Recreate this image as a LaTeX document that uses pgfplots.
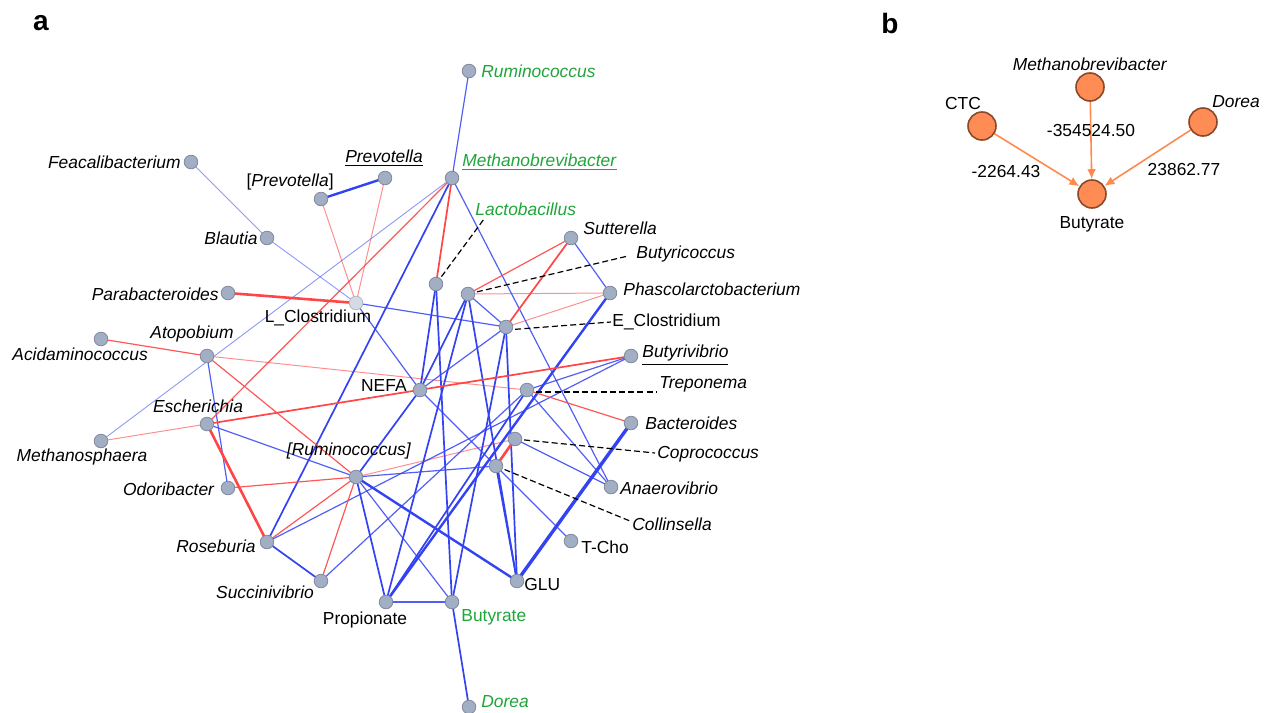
\documentclass[border=0pt]{standalone}
\usepackage{pgfplots}
\pgfplotsset{compat=1.18}
\usepackage{fontspec}
\setmainfont{Liberation Sans}
\usetikzlibrary{arrows.meta}
\definecolor{eb}{HTML}{3443F2}
\definecolor{er}{HTML}{FF4545}
\definecolor{nf}{HTML}{A2AEC3}
\definecolor{nd}{HTML}{7F8A9C}
\definecolor{lg}{HTML}{1FA53A}
\definecolor{of}{HTML}{FF8C55}
\definecolor{od}{HTML}{8A4A2A}
\definecolor{oa}{HTML}{FF8A50}
\tikzset{
 lab/.style={font=\fontsize{8.7}{10}\selectfont, inner sep=0pt},
 B1/.style={eb, line width=0.45pt, opacity=0.55, no markers},
 B2/.style={eb, line width=0.6pt, opacity=0.85, no markers},
 B3/.style={eb, line width=0.85pt, no markers},
 B4/.style={eb, line width=1.2pt, no markers},
 B5/.style={eb, line width=1.7pt, no markers},
 R1/.style={er, line width=0.5pt, opacity=0.6, no markers},
 R2/.style={er, line width=0.6pt, opacity=0.9, no markers},
 R3/.style={er, line width=0.85pt, no markers},
 R4/.style={er, line width=1.3pt, no markers},
 dsh/.style={black, line width=0.6pt, dash pattern=on 3pt off 1.6pt, no markers},
}
\begin{document}
\begin{tikzpicture}
\begin{axis}[name=ax, at={(0,0)}, anchor=south west, scale only axis,
 width=636.5pt, height=356pt, xmin=0, xmax=1273, ymin=0, ymax=712,
 y dir=reverse, hide axis, clip=false]
% red thin light
\addplot[R1] coordinates {(321,199) (356,303)};
\addplot[R1] coordinates {(385,178) (356,303)};
\addplot[R1] coordinates {(468,294) (610,293)};
\addplot[R1] coordinates {(610,293) (506,327)};
\addplot[R1] coordinates {(101,441) (207,424)};
\addplot[R1] coordinates {(207,356) (527,390)};
\addplot[R1] coordinates {(356,477) (515,439)};
% blue thin light
\addplot[B1] coordinates {(191,162) (267,238)};
\addplot[B1] coordinates {(267,238) (356,303)};
\addplot[B1] coordinates {(452,178) (101,441)};
% blue thin
\addplot[B2] coordinates {(469,71) (452,178)};
\addplot[B2] coordinates {(356,303) (506,327)};
\addplot[B2] coordinates {(356,303) (420,390)};
\addplot[B2] coordinates {(452,178) (611,487)};
\addplot[B2] coordinates {(468,294) (506,327)};
\addplot[B2] coordinates {(571,238) (610,293)};
\addplot[B2] coordinates {(506,327) (420,390)};
\addplot[B2] coordinates {(207,356) (228,488)};
\addplot[B2] coordinates {(207,424) (356,477)};
\addplot[B2] coordinates {(356,477) (496,466)};
\addplot[B2] coordinates {(356,477) (452,602)};
\addplot[B2] coordinates {(267,542) (631,356)};
\addplot[B2] coordinates {(321,581) (527,390)};
\addplot[B2] coordinates {(527,390) (611,487)};
\addplot[B2] coordinates {(527,390) (631,356)};
\addplot[B2] coordinates {(515,439) (611,487)};
\addplot[B2] coordinates {(496,466) (571,541)};
\addplot[B2] coordinates {(420,390) (496,466)};
\addplot[B2] coordinates {(386,602) (452,602)};
% blue medium
\addplot[B3] coordinates {(452,178) (267,542)};
\addplot[B3] coordinates {(436,284) (420,390)};
\addplot[B3] coordinates {(436,284) (452,602)};
\addplot[B3] coordinates {(468,294) (420,390)};
\addplot[B3] coordinates {(468,294) (517,581)};
\addplot[B3] coordinates {(468,294) (386,602)};
\addplot[B3] coordinates {(506,327) (517,581)};
\addplot[B3] coordinates {(506,327) (452,602)};
\addplot[B3] coordinates {(356,477) (420,390)};
\addplot[B3] coordinates {(356,477) (386,602)};
\addplot[B3] coordinates {(267,542) (321,581)};
\addplot[B3] coordinates {(527,390) (386,602)};
\addplot[B3] coordinates {(496,466) (517,581)};
\addplot[B3] coordinates {(452,602) (469,707)};
% blue thick
\addplot[B4] coordinates {(321,199) (385,178)};
\addplot[B4] coordinates {(610,293) (386,602)};
\addplot[B4] coordinates {(356,477) (517,581)};
\addplot[B5] coordinates {(631,423) (517,581)};
% red medium
\addplot[R2] coordinates {(452,178) (207,424)};
\addplot[R2] coordinates {(468,294) (571,238)};
\addplot[R2] coordinates {(101,339) (207,356)};
\addplot[R2] coordinates {(207,356) (356,477)};
\addplot[R2] coordinates {(228,488) (356,477)};
\addplot[R2] coordinates {(356,477) (267,542)};
\addplot[R2] coordinates {(356,477) (321,581)};
\addplot[R2] coordinates {(527,390) (631,423)};
% red thick
\addplot[R3] coordinates {(452,178) (436,284)};
\addplot[R3] coordinates {(571,238) (506,327)};
\addplot[R3] coordinates {(207,424) (631,356)};
\addplot[R4] coordinates {(228,293) (356,303)};
\addplot[R4] coordinates {(207,424) (267,542)};
\addplot[R4] coordinates {(515,439) (496,466)};
% dashed leaders
\addplot[dsh] coordinates {(436,284) (484,219)};
\addplot[dsh] coordinates {(468,294) (628,256)};
\addplot[dsh] coordinates {(506,330) (611,322)};
\addplot[dsh] coordinates {(527,392) (657,392)};
\addplot[dsh] coordinates {(515,439) (655,453)};
\addplot[dsh] coordinates {(496,466) (630,521)};
% nodes panel a
\addplot[only marks, mark=*, mark size=3.4pt, mark options={fill=nf, draw=nd, line width=0.4pt}] coordinates {
(469,71) (191,162) (385,178) (321,199) (452,178) (267,238) (436,284) (571,238)
(228,293) (468,294) (610,293) (506,327) (101,339) (207,356) (631,356)
(420,390) (527,390) (207,424) (631,423) (515,439) (101,441) (356,477) (496,466)
(228,488) (611,487) (267,542) (571,541) (321,581) (517,581) (386,602) (452,602) (469,707)};
\addplot[only marks, mark=*, mark size=3.4pt, mark options={fill=nf!45!white, draw=nd!60!white, line width=0.4pt}] coordinates {(356,303)};
% panel b
\addplot[oa, line width=0.8pt, shorten <=7pt, shorten >=7.4pt, -{Latex[length=5pt,width=4.4pt]}] coordinates {(982,126) (1092,194)};
\addplot[oa, line width=0.8pt, shorten <=7pt, shorten >=7.4pt, -{Latex[length=5pt,width=4.4pt]}] coordinates {(1090,87) (1092,194)};
\addplot[oa, line width=0.8pt, shorten <=7pt, shorten >=7.4pt, -{Latex[length=5pt,width=4.4pt]}] coordinates {(1203,122) (1092,194)};
\addplot[only marks, mark=*, mark size=7pt, mark options={fill=of, draw=od, line width=0.8pt}] coordinates {(982,126) (1090,87) (1203,122) (1092,194)};
% panel letters
\node[font=\fontsize{14}{16}\selectfont\bfseries, inner sep=0pt] at (axis cs:41,23) {a};
\node[font=\fontsize{14}{16}\selectfont\bfseries, inner sep=0pt] at (axis cs:890,23) {b};
% labels panel a
\node[lab, anchor=west, text=lg] at (axis cs:481,71) {\textit{Ruminococcus}};
\node[lab, anchor=east] at (axis cs:181,162) {\textit{Feacalibacterium}};
\node[lab] at (axis cs:384,158) {\underline{\textit{Prevotella}}};
\node[lab, anchor=east] at (axis cs:334,182) {[\textit{Prevotella}]};
\node[lab, anchor=west, text=lg] at (axis cs:462,162) {\underline{\textit{Methanobrevibacter}}};
\node[lab, anchor=west, text=lg] at (axis cs:475,209) {\textit{Lactobacillus}};
\node[lab, anchor=west] at (axis cs:583,228) {\textit{Sutterella}};
\node[lab, anchor=west] at (axis cs:636,254) {\textit{Butyricoccus}};
\node[lab, anchor=east] at (axis cs:258,238) {\textit{Blautia}};
\node[lab, anchor=east] at (axis cs:219,294) {\textit{Parabacteroides}};
\node[lab] at (axis cs:318,318) {L\_Clostridium};
\node[lab, anchor=west] at (axis cs:623,289) {\textit{Phascolarctobacterium}};
\node[lab, anchor=west] at (axis cs:612,322) {E\_Clostridium};
\node[lab, anchor=west] at (axis cs:12,354) {\textit{Acidaminococcus}};
\node[lab] at (axis cs:192,334) {\textit{Atopobium}};
\node[lab, anchor=west] at (axis cs:642,355) {\underline{\textit{Butyrivibrio}}};
\node[lab, anchor=east] at (axis cs:407,386) {NEFA};
\node[lab, anchor=west] at (axis cs:659,384) {\textit{Treponema}};
\node[lab] at (axis cs:198,406) {\textit{Escherichia}};
\node[lab, anchor=west] at (axis cs:645,423) {\textit{Bacteroides}};
\node[lab, anchor=west] at (axis cs:657,454) {\textit{Coprococcus}};
\node[lab] at (axis cs:82,457) {\textit{Methanosphaera}};
\node[lab] at (axis cs:349,451) {\textit{[Ruminococcus]}};
\node[lab, anchor=east] at (axis cs:215,489) {\textit{Odoribacter}};
\node[lab, anchor=west] at (axis cs:620,488) {\textit{Anaerovibrio}};
\node[lab, anchor=west] at (axis cs:632,524) {\textit{Collinsella}};
\node[lab, anchor=east] at (axis cs:256,546) {\textit{Roseburia}};
\node[lab, anchor=west] at (axis cs:581,547) {T-Cho};
\node[lab] at (axis cs:265,592) {\textit{Succinivibrio}};
\node[lab, anchor=west] at (axis cs:524,585) {GLU};
\node[lab] at (axis cs:365,620) {Propionate};
\node[lab, anchor=west, text=lg] at (axis cs:461,617) {Butyrate};
\node[lab, anchor=west, text=lg] at (axis cs:481,702) {\textit{Dorea}};
% labels panel b
\node[lab] at (axis cs:963,104) {CTC};
\node[lab] at (axis cs:1090,64) {\textit{Methanobrevibacter}};
\node[lab] at (axis cs:1236,102) {\textit{Dorea}};
\node[lab] at (axis cs:1091,131) {-354524.50};
\node[lab] at (axis cs:1006,172) {-2264.43};
\node[lab] at (axis cs:1184,170) {23862.77};
\node[lab] at (axis cs:1092,224) {Butyrate};
\end{axis}
\pgfresetboundingbox
\path[use as bounding box] (ax.south west) rectangle (ax.north east);
\end{tikzpicture}
\end{document}
